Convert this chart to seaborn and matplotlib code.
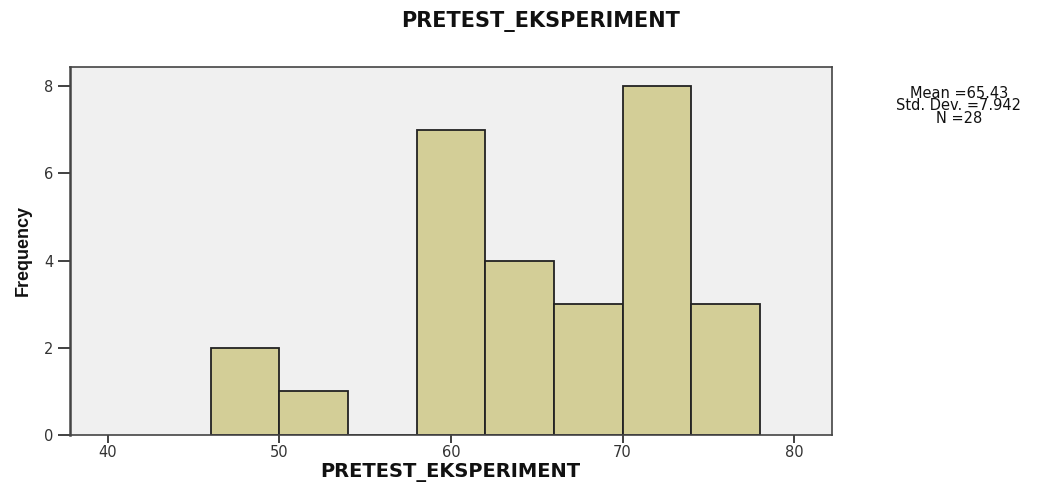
import numpy as np
import pandas as pd
import matplotlib
matplotlib.use("Agg")
import matplotlib.pyplot as plt
import seaborn as sns

# histogram bins (width 4)
bin_edges = [46, 50, 54, 58, 62, 66, 70, 74, 78]
counts = [2, 1, 0, 7, 4, 3, 8, 3]
stats_lines = ["Mean =65.43", "Std. Dev. =7.942", "N =28"]
var_name = "PRETEST_EKSPERIMENT"

centers = [(a + b) / 2 for a, b in zip(bin_edges[:-1], bin_edges[1:])]
df = pd.DataFrame({"x": centers, "w": counts})

sns.set_style("white")
plt.rcParams["font.family"] = ["DejaVu Sans"]

fig = plt.figure(figsize=(10.4, 4.82), dpi=100)
ax = fig.add_axes([0.0673, 0.0975, 0.7327, 0.7635])
ax.set_facecolor("#f0f0f0")

sns.histplot(data=df, x="x", weights="w", bins=bin_edges, ax=ax,
             color="#d3ce97", alpha=1, edgecolor="#222222", linewidth=1.3)

ax.set_xlim(37.8, 82.2)
ax.set_ylim(0, 8.44)
ax.set_xticks([40, 50, 60, 70, 80])
ax.set_yticks([0, 2, 4, 6, 8])
ax.tick_params(axis="both", bottom=True, left=True, direction="out", width=1.3,
               color="#333333", labelsize=10.5, labelcolor="#333333")
ax.tick_params(axis="x", length=6, pad=1)
ax.tick_params(axis="y", length=9, pad=3)
for s in ax.spines.values():
    s.set_color("#444444")
    s.set_linewidth(1.2)
ax.spines["left"].set_linewidth(1.8)

ax.set_xlabel("")
ax.set_ylabel("")
fig.text(0.433, 1 - 472 / 482, var_name, ha="center", va="center",
         fontsize=14, fontweight="bold", color="#111111")
fig.text(0.022, 1 - 250 / 482, "Frequency", ha="center", va="center", rotation=90,
         fontsize=13, fontweight="bold", color="#111111",
         family=["Liberation Sans Narrow", "Liberation Sans", "DejaVu Sans"])
fig.text(0.52, 1 - 22 / 482, var_name, ha="center", va="center",
         fontsize=15, fontweight="bold", color="#111111")
fig.text(0.922, 1 - 106 / 482, "\n".join(stats_lines), ha="center", va="center",
         fontsize=10.5, linespacing=0.78, color="#111111")

fig.savefig("out.png", dpi=100)
